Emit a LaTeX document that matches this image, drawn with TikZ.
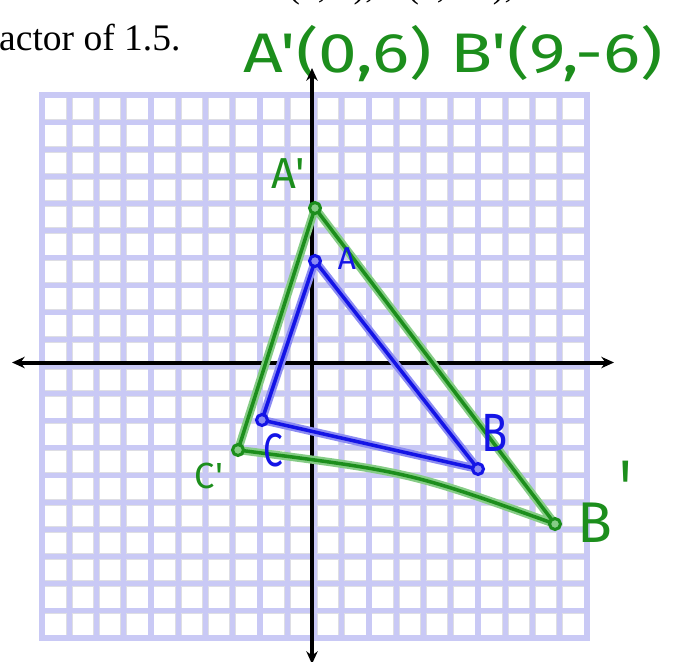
\documentclass[tikz,border=0pt]{standalone}
\usepackage{fontspec}
\setmainfont{Liberation Serif}
\newfontfamily\handfont{Fira Sans}
\usetikzlibrary{arrows.meta}
\definecolor{gridlav}{HTML}{C9C9F5}
\definecolor{gridrim}{HTML}{DEDEE4}
\definecolor{penblue}{HTML}{1414E6}
\definecolor{haloblue}{HTML}{8C8CF2}
\definecolor{pengreen}{HTML}{1C8E1C}
\definecolor{halogreen}{HTML}{86CC86}

\begin{document}
\begin{tikzpicture}[x=.03cm,y=-.03cm,
  gridrimline/.style={draw=gridrim,line width=5.6pt,line cap=rect},
  gridline/.style={draw=gridlav,line width=4.3pt,line cap=rect},
  axisline/.style={line width=3.4pt,{Stealth[length=.38cm,width=.34cm]}-{Stealth[length=.38cm,width=.34cm]}},
  bluehalo/.style={draw=haloblue,line width=7pt,line cap=round,line join=round},
  bluepen/.style={draw=penblue,line width=3pt,line cap=round,line join=round},
  greenhalo/.style={draw=halogreen,line width=7pt,line cap=round,line join=round},
  greenpen/.style={draw=pengreen,line width=3pt,line cap=round,line join=round},
  bluedot/.style={draw=penblue,fill=haloblue,line width=2.6pt},
  greendot/.style={draw=pengreen,fill=halogreen,line width=2.6pt},
  bluelbl/.style={inner sep=0,text=penblue},
  greenlbl/.style={inner sep=0,text=pengreen}]
\useasboundingbox (0,0) rectangle (679,661);

% printed text
\begin{scope}
\clip (0,0) rectangle (679,30);
\node[anchor=base west,inner sep=0,font=\fontsize{30.5}{34}\selectfont] (prev) at (262,-3) {A(0, 4), B(6, −4),};
\end{scope}
\node[anchor=base west,inner sep=0,font=\fontsize{32}{36}\selectfont] (task) at (-1,50) {actor of 1.5.};
\node[greenlbl,anchor=base,font=\handfont\fontsize{47.6}{50}\selectfont] (img) at (453,72) {\scalebox{1.245}[1]{A'(0,6) B'(9,-6)}};

% grid
\foreach \i in {0,...,20}{
  \draw[gridrimline] ({42+27.25*\i},95) -- ({42+27.25*\i},638);
  \draw[gridrimline] (42,{95+27.15*\i}) -- (587,{95+27.15*\i});
}
\foreach \i in {0,...,20}{
  \draw[gridline] ({42+27.25*\i},95) -- ({42+27.25*\i},638);
  \draw[gridline] (42,{95+27.15*\i}) -- (587,{95+27.15*\i});
}

% axes
\coordinate (xw) at (12,362.5);
\coordinate (xe) at (614,362.5);
\coordinate (yn) at (312,68);
\coordinate (ys) at (312,664);
\draw[axisline] (xw) -- (xe);
\draw[axisline] (yn) -- (ys);

% triangle ABC
\coordinate (A) at (315,261);
\coordinate (B) at (478,469);
\coordinate (C) at (262,420);
\draw[bluehalo] (A) -- (B) -- (C) -- cycle;
\draw[bluepen] (A) -- (B) -- (C) -- cycle;

% image A'B'C'
\coordinate (Ap) at (315,208);
\coordinate (Bp) at (555,524);
\coordinate (Cp) at (238,450);
\draw[greenhalo] (Ap) -- (Bp) .. controls (410,472) .. (Cp) -- cycle;
\draw[greenpen] (Ap) -- (Bp) .. controls (410,472) .. (Cp) -- cycle;

\foreach \p in {A,B,C} \draw[bluedot] (\p) circle[radius=5.5];
\foreach \p in {Ap,Bp,Cp} \draw[greendot] (\p) circle[radius=5.5];

% labels
\node[bluelbl,font=\handfont\fontsize{27}{30}\selectfont] (la) at (347,259) {A};
\node[bluelbl,font=\handfont\fontsize{46}{48}\selectfont] (lb) at (495,433) {\scalebox{.8}[1]{B}};
\node[bluelbl,font=\handfont\fontsize{40}{42}\selectfont] (lc) at (273,450) {\scalebox{.75}[1]{C}};
\node[greenlbl,font=\handfont\fontsize{37}{40}\selectfont] (lap) at (288,174) {A'};
\node[greenlbl,font=\handfont\fontsize{31}{34}\selectfont] (lcp) at (209,476) {C'};
\node[greenlbl,font=\handfont\fontsize{49}{52}\selectfont,anchor=base west] (lbp) at (577,542) {B\hspace{6pt}\raisebox{22pt}{\scalebox{1}[1.4]{'}}};
\end{tikzpicture}
\end{document}
